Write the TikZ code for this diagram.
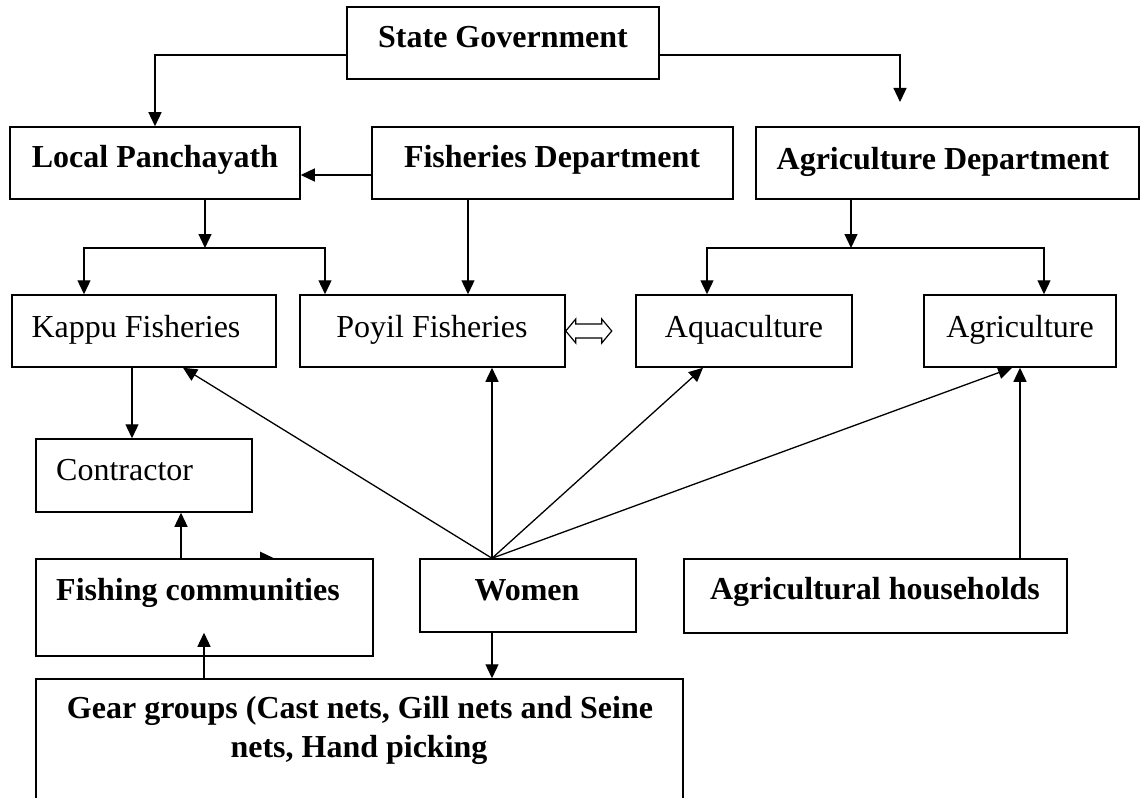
\documentclass[tikz,border=0pt]{standalone}
\usepackage{fontspec}
\setmainfont{Liberation Serif}
\usetikzlibrary{arrows.meta,backgrounds,calc}
\begin{document}
\begin{tikzpicture}[x=1pt,y=-1pt,
  box/.style={draw, line width=1.5pt, fill=white, inner sep=0pt, rectangle},
  lbl/.style={font=\fontsize{32}{39}\selectfont, inner sep=0pt, anchor=base},
  blbl/.style={lbl, font=\fontsize{32}{39}\selectfont\bfseries},
  arr/.style={line width=1.3pt, -{Triangle[length=14pt,width=13pt]}},
  dblarrow/.style={line width=1.2pt, fill=white}]
\useasboundingbox (0,0) rectangle (1142,797);
\clip (0,0) rectangle (1142,797);
% boxes
\node[box, minimum width=312pt, minimum height=72pt] (sg) at (503,43) {};
\node[box, minimum width=290pt, minimum height=72pt] (lp) at (155,163) {};
\node[box, minimum width=361pt, minimum height=72pt] (fd) at (552.5,163) {};
\node[box, minimum width=383pt, minimum height=72pt] (ad) at (947.5,163) {};
\node[box, minimum width=264pt, minimum height=72pt] (kap) at (144,331) {};
\node[box, minimum width=265pt, minimum height=72pt] (poy) at (432.5,331) {};
\node[box, minimum width=216pt, minimum height=72pt] (aqua) at (744,331) {};
\node[box, minimum width=192pt, minimum height=72pt] (agri) at (1020,331) {};
\node[box, minimum width=216pt, minimum height=73pt] (con) at (144,475.5) {};
\node[box, minimum width=337pt, minimum height=97pt] (fc) at (204.5,607.5) {};
\node[box, minimum width=216pt, minimum height=73pt] (wom) at (528,595.5) {};
\node[box, minimum width=383pt, minimum height=74pt] (ah) at (875.5,596) {};
\node[box, minimum width=647pt, minimum height=170pt] (gear) at (359.5,764) {};
% texts
\node[blbl] (sg-t) at (503,48) {State Government};
\node[blbl] (lp-t) at (155,167) {Local Panchayath};
\node[blbl] (fd-t) at (552,167) {Fisheries Department};
\node[blbl] (ad-t) at (943,169) {Agriculture Department};
\node[lbl] (kap-t) at (136,337) {Kappu Fisheries};
\node[lbl] (poy-t) at (432,337) {Poyil Fisheries};
\node[lbl] (aqua-t) at (744,337) {Aquaculture};
\node[lbl] (agri-t) at (1020,337) {Agriculture};
\node[lbl, anchor=base west] (con-t) at (56,480) {Contractor};
\node[blbl, anchor=base west] (fc-t) at (56,600) {Fishing communities};
\node[blbl] (wom-t) at (527,600) {Women};
\node[blbl] (ah-t) at (875,599) {Agricultural households};
\node[blbl] (gear-t1) at (360,718) {Gear groups (Cast nets, Gill nets and Seine};
\node[blbl] (gear-t2) at (359,757) {nets, Hand picking};
% connectors
\draw[arr] ([yshift=-12pt]sg.west) -| (lp.north);
\coordinate (adtip) at (900,102);
\draw[arr] ([yshift=-12pt]sg.east) -| (adtip);
\draw[arr] ([yshift=-12pt]fd.west) -- ([yshift=-12pt]lp.east);
\coordinate (lbar) at (205,248);
\draw[arr] (lp.south -| lbar) -- (lbar);
\draw[arr] (lbar) -| ([xshift=-60pt]kap.north);
\draw[arr] (lbar) -| ([xshift=-107.5pt]poy.north);
\draw[arr] ([xshift=-84.5pt]fd.south) -- ([xshift=-84.5pt]fd.south |- poy.north);
\coordinate (rbar) at (851,248);
\draw[arr] (ad.south -| rbar) -- (rbar);
\draw[arr] (rbar) -| ([xshift=-37pt]aqua.north);
\draw[arr] (rbar) -| ([xshift=24pt]agri.north);
% double arrow
\draw[dblarrow] (poy.east) -- ++(10,-12) -- ++(0,5) -- ++(26,0) -- ++(0,-5) -- ++(10,12) -- ++(-10,12) -- ++(0,-5) -- ++(-26,0) -- ++(0,5) -- cycle;
% women arrows
\coordinate (wtop) at ([xshift=-36pt]wom.north);
\draw[arr] (wtop) -- ([xshift=39pt]kap.south);
\draw[arr] (wtop) -- (wtop |- poy.south);
\draw[arr] (wtop) -- ([xshift=-41pt]aqua.south);
\draw[arr] (wtop) -- ([xshift=-8pt]agri.south);
\draw[arr] (ah.north -| agri.south) -- (agri.south);
\draw[arr] ([xshift=-12pt]kap.south) -- ([xshift=-12pt]con.north);
\draw[arr] ([xshift=-23.5pt]fc.north) -- ([xshift=-23.5pt]fc.north |- con.south);
\draw[arr] ([xshift=-36pt]wom.south) -- ([xshift=-36pt]wom.south |- gear.north);
\draw[arr] ([xshift=-0.5pt]fc.south |- gear.north) -- ([xshift=-0.5pt,yshift=24pt]fc.south);
\begin{pgfonlayer}{background}
\draw[arr] ([xshift=23.5pt]fc.north) -- ([xshift=69.5pt]fc.north);
\end{pgfonlayer}
\end{tikzpicture}
\end{document}
